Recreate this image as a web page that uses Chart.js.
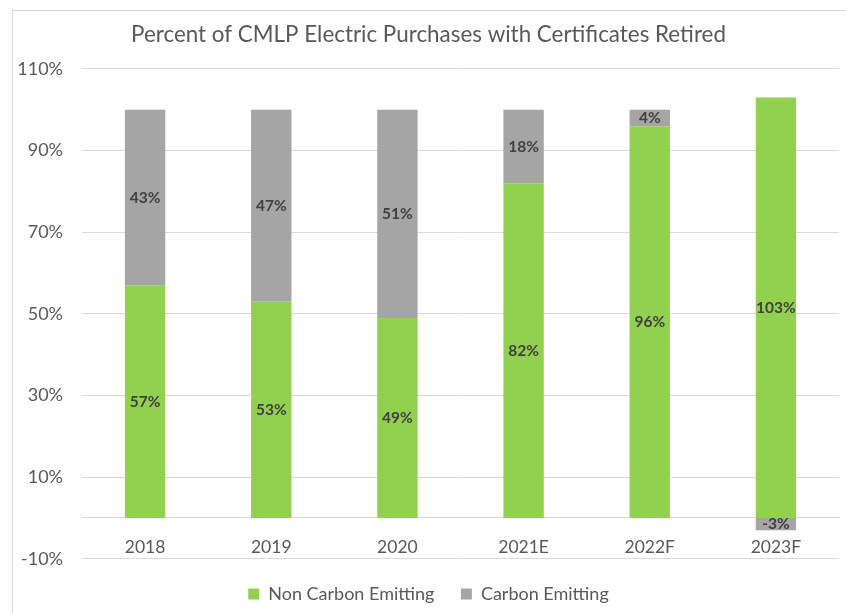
<!doctype html>
<html lang="en">
<head>
    <meta charset="utf-8">
    <title>Percent of CMLP Electric Purchases with Certificates Retired</title>
    <script src="https://cdn.jsdelivr.net/npm/chart.js"></script>
    <style>
        body { margin: 0; background: #fff; }
        #frame { position: absolute; left: 12px; top: 10px; width: 900px; height: 700px; border: 1px solid #d9d9d9; }
        #wrap { position: absolute; left: 0; top: 0; }
    </style>
</head>
<body>
<div id="frame"></div>
<div id="wrap"><canvas id="certs" width="846" height="613"></canvas></div>
<script>
    // values (percent)
    var years = ['2018', '2019', '2020', '2021E', '2022F', '2023F'];
    var nonCarbon = [57, 53, 49, 82, 96, 103];
    var carbon = [43, 47, 51, 18, 4, -3];
    var yTicks = [-10, 10, 30, 50, 70, 90, 110];

    var FONT = 'Lato, "Open Sans", sans-serif';
    var GREY_TEXT = '#595959';

    // writes the value inside each bar segment
    var segmentLabels = {
        id: 'segmentLabels',
        afterDatasetsDraw: function (chart) {
            var ctx = chart.ctx;
            ctx.save();
            ctx.font = 'bold 15.5px ' + FONT;
            ctx.fillStyle = '#404040';
            ctx.textAlign = 'center';
            ctx.textBaseline = 'middle';
            chart.data.datasets.forEach(function (ds, i) {
                chart.getDatasetMeta(i).data.forEach(function (bar, j) {
                    var v = ds.data[j];
                    if (v === null || v === undefined) return;
                    var p = bar.getCenterPoint();
                    ctx.fillText(v + '%', p.x, p.y);
                });
            });
            ctx.restore();
        }
    };

    var ctx = document.getElementById('certs');
    var myChart = new Chart(ctx, {
        type: 'bar',
        data: {
            labels: years,
            datasets: [{
                label: 'Non Carbon Emitting',
                data: nonCarbon,
                backgroundColor: '#92d050',
                categoryPercentage: 1,
                barPercentage: 0.32
            }, {
                label: 'Carbon Emitting',
                data: carbon,
                backgroundColor: '#a5a5a5',
                categoryPercentage: 1,
                barPercentage: 0.32
            }]
        },
        options: {
            responsive: false,
            devicePixelRatio: 1,
            animation: false,
            layout: {
                padding: {left: 18, right: 7, top: 0, bottom: 0}
            },
            scales: {
                x: {
                    stacked: true,
                    position: {y: 0},
                    grid: {display: false, drawTicks: false},
                    border: {display: true, color: '#d9d9d9', width: 1},
                    ticks: {
                        color: GREY_TEXT,
                        padding: 19,
                        font: {family: FONT, size: 17.5}
                    }
                },
                y: {
                    stacked: true,
                    min: -10,
                    max: 110,
                    afterBuildTicks: function (scale) {
                        scale.ticks = yTicks.map(function (v) { return {value: v}; });
                    },
                    afterFit: function (scale) {
                        scale.width = 64;
                    },
                    grid: {color: '#d9d9d9', drawTicks: false},
                    border: {display: false},
                    ticks: {
                        color: GREY_TEXT,
                        padding: 19,
                        font: {family: FONT, size: 18},
                        callback: function (v) { return v + '%'; }
                    }
                }
            },
            plugins: {
                title: {
                    display: true,
                    text: 'Percent of CMLP Electric Purchases with Certificates Retired',
                    color: GREY_TEXT,
                    font: {family: FONT, size: 22.4, weight: 'normal'},
                    padding: {top: 21.5, bottom: 20.6}
                },
                legend: {
                    position: 'bottom',
                    title: {display: true, text: ' ', font: {size: 1}, padding: {top: 17, bottom: 0}},
                    labels: {
                        color: GREY_TEXT,
                        font: {family: FONT, size: 18},
                        boxWidth: 11,
                        boxHeight: 11,
                        padding: 8,
                        generateLabels: function (chart) {
                            var items = Chart.defaults.plugins.legend.labels.generateLabels(chart);
                            // wider gap between the two entries, as in the picture
                            items[0].text += '    ';
                            return items;
                        }
                    }
                },
                tooltip: {enabled: false}
            }
        },
        plugins: [segmentLabels]
    });
</script>
</body>
</html>
